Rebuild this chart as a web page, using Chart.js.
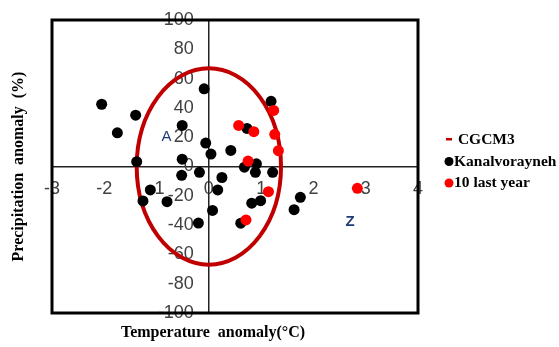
<!DOCTYPE html>
<html>
<head>
<meta charset="utf-8">
<script src="https://cdn.jsdelivr.net/npm/chart.js@4.4.1/dist/chart.umd.min.js"></script>
<style>
  html, body { margin: 0; padding: 0; background: #fff; }
</style>
</head>
<body>
<canvas id="chart" width="559" height="347"></canvas>
<script>
// axis ranges
const xRange = [-3, 4];
const yRange = [-100, 100];

// Kanalvorayneh observations (temp anomaly, precip anomaly)
const kanalX = [-2.05, -1.75, -1.40, -1.38, -1.12, -1.26, -0.80, -0.51, -0.51, -0.52,
                -0.18, -0.09, -0.06, 0.04, 0.25, 0.17, 0.07, -0.20, 0.42, 0.73,
                1.19, 0.68, 0.91, 0.89, 1.22, 0.82, 0.99, 0.61, 1.63, 1.75];
const kanalY = [42.5, 23, 35, 3.3, -16, -23.5, -24, 28, 5, -6,
                -4, 53, 16, 8.5, -7.5, -16, -30, -38.6, 11, 26,
                44.5, -0.5, 1.8, -4, -4, -25, -23.3, -38.7, -29.5, -21];

// last 10 years
const lastX = [0.57, 0.86, 1.24, 1.26, 1.33, 0.75, 1.14, 0.71, 2.84];
const lastY = [28, 23.8, 38.3, 22, 10.8, 3.7, -17.2, -36.5, -14.9];

// CGCM3 envelope: centre and half widths
const cgcmCenter = [0, 0];
const cgcmRadius = [1.38, 67];

// letters placed on the plot
const markText = ['A', 'Z'];
const markX = [-0.81, 2.70];
const markY = [20, -38];

const tickFont = "'Liberation Sans Narrow', 'Arial Narrow', 'Liberation Sans', Arial, sans-serif";
const serif = "'Liberation Serif', 'Times New Roman', serif";

function toPoints(xs, ys) {
    return xs.map((v, i) => ({ x: v, y: ys[i] }));
}

const decor = {
    id: 'decor',
    beforeDatasetsDraw(chart) {
        const { ctx, scales: { x, y } } = chart;
        const cx = x.getPixelForValue(cgcmCenter[0]);
        const cy = y.getPixelForValue(cgcmCenter[1]);
        const rx = x.getPixelForValue(cgcmCenter[0] + cgcmRadius[0]) - cx;
        const ry = cy - y.getPixelForValue(cgcmCenter[1] + cgcmRadius[1]);
        ctx.save();
        ctx.strokeStyle = chart.data.datasets[0].borderColor;
        ctx.lineWidth = 4;
        ctx.beginPath();
        ctx.ellipse(cx, cy, rx, ry, 0, 0, Math.PI * 2);
        ctx.stroke();
        ctx.restore();
    },
    afterDraw(chart) {
        const { ctx, chartArea: a, scales: { x, y } } = chart;
        ctx.save();

        // outer frame
        ctx.strokeStyle = '#000';
        ctx.lineWidth = 3;
        ctx.strokeRect(a.left, a.top, a.right - a.left, a.bottom - a.top);

        // A / Z letters
        ctx.fillStyle = '#1f3a78';
        ctx.textAlign = 'center';
        ctx.textBaseline = 'middle';
        markText.forEach((t, i) => {
            ctx.font = (i === 0 ? '' : 'bold ') + "15px 'Liberation Sans', Arial, sans-serif";
            ctx.fillText(t, x.getPixelForValue(markX[i]), y.getPixelForValue(markY[i]));
        });

        // axis titles
        ctx.fillStyle = '#000';
        ctx.font = 'bold 16px ' + serif;
        ctx.fillText('Temperature  anomaly(°C)', (a.left + a.right) / 2 - 22, a.bottom + 20);
        ctx.save();
        ctx.translate(19, (a.top + a.bottom) / 2);
        ctx.rotate(-Math.PI / 2);
        ctx.fillText('Precipitation  anomaly  (%)', 0, 0);
        ctx.restore();

        // legend
        ctx.font = 'bold 15.5px ' + serif;
        ctx.textAlign = 'left';
        const lx = a.right + 30;
        chart.data.datasets.forEach((ds, i) => {
            const ly = 139 + i * 21.5;
            ctx.fillStyle = ds.backgroundColor;
            if (i === 0) {
                ctx.fillRect(lx - 2, ly - 1, 6, 2.5);
            } else {
                ctx.beginPath();
                ctx.arc(lx + 1, ly + 1, 4.5, 0, Math.PI * 2);
                ctx.fill();
            }
            ctx.fillStyle = '#000';
            ctx.fillText((i === 0 ? ' ' : '') + ds.label, lx + 6, ly + 1);
        });
        ctx.restore();
    }
};

new Chart(document.getElementById('chart'), {
    type: 'scatter',
    data: {
        datasets: [
            { label: 'CGCM3', data: [], borderColor: '#c00000', backgroundColor: '#c00000', order: 2 },
            {
                label: 'Kanalvorayneh', data: toPoints(kanalX, kanalY),
                backgroundColor: '#000', borderWidth: 0, pointRadius: 5.5, order: 1
            },
            {
                label: '10 last year', data: toPoints(lastX, lastY),
                backgroundColor: '#ff0000', borderWidth: 0, pointRadius: 5.5, order: 0
            }
        ]
    },
    options: {
        responsive: false,
        animation: false,
        layout: { padding: { left: 52, right: 141, top: 20, bottom: 34 } },
        plugins: { legend: { display: false }, tooltip: { enabled: false } },
        scales: {
            x: {
                type: 'linear', min: xRange[0], max: xRange[1],
                position: { y: 0 },
                grid: { display: false },
                border: { color: '#222', width: 1.5 },
                ticks: { stepSize: 1, padding: 4, color: '#404040', font: { family: tickFont, size: 18 } },
                afterFit(s) { s.height = 0; }
            },
            y: {
                type: 'linear', min: yRange[0], max: yRange[1],
                position: { x: 0 },
                grid: { display: false },
                border: { color: '#222', width: 1.5 },
                ticks: {
                    stepSize: 20, color: '#404040', font: { family: tickFont, size: 18 },
                    // centred axis labels sit on the line, so push them left a bit
                    callback: v => v + '   '
                },
                afterFit(s) { s.width = 0; }
            }
        }
    },
    plugins: [decor]
});
</script>
</body>
</html>
